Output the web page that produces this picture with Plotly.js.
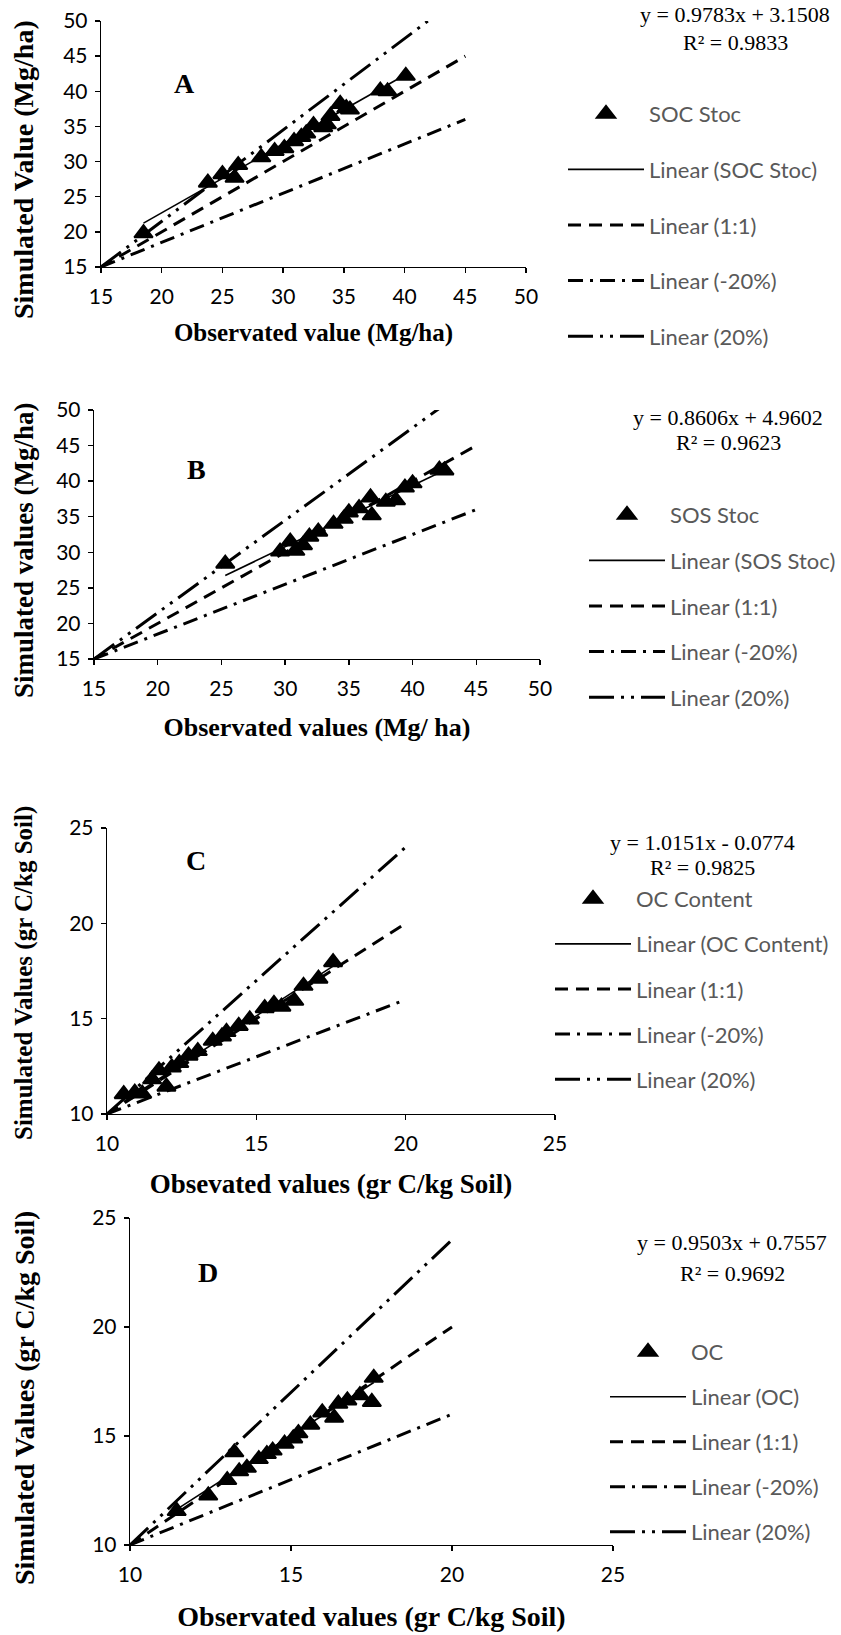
<!DOCTYPE html>
<html><head><meta charset="utf-8">
<script src="https://cdn.plot.ly/plotly-3.0.1.min.js"></script>
<style>html,body{margin:0;padding:0;background:#fff}#chart{width:841px;height:1635px}</style>
</head><body><div id="chart"></div>
<script>
// ---------- Panel A : SOC stock (Mg/ha) ----------
const obsA = [18.5, 23.8, 25.0, 26.0, 26.3, 28.2, 29.3, 30.1, 30.9, 31.5, 31.9, 32.5, 33.3, 33.6, 33.9, 34.7, 35.2, 35.5, 38.0, 38.6, 40.1];
const simA = [19.8, 27.0, 28.2, 27.7, 29.5, 30.6, 31.5, 31.9, 32.9, 33.5, 34.0, 35.2, 34.9, 35.3, 36.5, 38.2, 37.6, 37.4, 40.1, 40.0, 42.2];
const fitA = [0.9783, 3.1508];
const eqA = ['y = 0.9783x + 3.1508', 'R² = 0.9833'];
const namesA = ['SOC Stoc', 'Linear (SOC Stoc)', 'Linear (1:1)', 'Linear (-20%)', 'Linear (20%)'];

// ---------- Panel B : SOS stock (Mg/ha) ----------
const obsB = [25.3, 29.6, 30.4, 30.8, 31.4, 31.9, 32.6, 33.8, 34.6, 35.0, 35.8, 36.7, 36.8, 37.9, 38.7, 39.4, 40.0, 42.1, 42.5];
const simB = [28.4, 30.1, 31.5, 30.2, 31.0, 32.2, 32.9, 34.0, 34.7, 35.6, 36.2, 37.7, 35.2, 37.1, 37.3, 39.1, 39.7, 41.6, 41.5];
const fitB = [0.8606, 4.9602];
const eqB = ['y = 0.8606x + 4.9602', 'R² = 0.9623'];
const namesB = ['SOS Stoc', 'Linear (SOS Stoc)', 'Linear (1:1)', 'Linear (-20%)', 'Linear (20%)'];

// ---------- Panel C : OC content (gr C/kg soil) ----------
const obsC = [10.56, 10.93, 11.18, 11.51, 11.74, 11.99, 12.17, 12.42, 12.73, 13.04, 13.54, 13.85, 14.0, 14.41, 14.78, 15.28, 15.59, 15.84, 16.27, 16.58, 17.08, 17.57];
const simC = [11.04, 11.12, 11.07, 11.82, 12.29, 11.43, 12.44, 12.67, 13.06, 13.3, 13.84, 14.07, 14.3, 14.62, 14.96, 15.55, 15.78, 15.63, 15.94, 16.72, 17.1, 17.96];
const fitC = [1.0151, -0.0774];
const eqC = ['y = 1.0151x - 0.0774', 'R² = 0.9825'];
const namesC = ['OC Content', 'Linear (OC Content)', 'Linear (1:1)', 'Linear (-20%)', 'Linear (20%)'];

// ---------- Panel D : OC (gr C/kg soil) ----------
const obsD = [11.45, 12.43, 13.02, 13.24, 13.39, 13.63, 14.0, 14.25, 14.43, 14.8, 15.07, 15.23, 15.6, 15.97, 16.34, 16.47, 16.75, 17.14, 17.57, 17.51];
const simD = [11.56, 12.27, 12.98, 14.25, 13.38, 13.54, 13.94, 14.17, 14.33, 14.65, 14.89, 15.13, 15.52, 16.08, 15.84, 16.48, 16.63, 16.87, 17.67, 16.56];
const fitD = [0.9503, 0.7557];
const eqD = ['y = 0.9503x + 0.7557', 'R² = 0.9692'];
const namesD = ['OC', 'Linear (OC)', 'Linear (1:1)', 'Linear (-20%)', 'Linear (20%)'];

// ---------- reference lines (1:1, -20%, +20%) ----------
const refX_Mg = [15, 45];
const one_Mg = [15, 45];
const minus_Mg = [15, 36];
const plus_Mg = [15, 54];
const refX_gr = [10, 20];
const one_gr = [10, 20];
const minus_gr = [10, 16];
const plus_gr = [10, 24];

// ---------- axis ticks / titles ----------
const ticksMg = [15, 20, 25, 30, 35, 40, 45, 50];
const ticksGr = [10, 15, 20, 25];
const xTitles = ['Observated value (Mg/ha)', 'Observated values (Mg/ ha)', 'Obsevated values (gr C/kg Soil)', 'Observated values (gr C/kg Soil)'];
const yTitles = ['Simulated Value (Mg/ha)', 'Simulated values (Mg/ha)', 'Simulated Values (gr C/kg Soil)', 'Simulated Values (gr C/kg Soil)'];
const letters = ['A', 'B', 'C', 'D'];

const W = 841, H = 1635;
const panels = [
  {obs: obsA, sim: simA, fit: fitA, eq: eqA, names: namesA, rx: refX_Mg, r1: one_Mg, rm: minus_Mg, rp: plus_Mg, ticks: ticksMg, range: [15, 50],
   box: {l: 101, r: 526, t: 21, b: 267}, eqPos: [735, 15, 42], letterPos: [184, 83], leg: [563, 93], gap: 24,
   xsz: 25, xst: 17, ysz: 28, yTitle: [24, 170]},
  {obs: obsB, sim: simB, fit: fitB, eq: eqB, names: namesB, rx: refX_Mg, r1: one_Mg, rm: minus_Mg, rp: plus_Mg, ticks: ticksMg, range: [15, 50],
   box: {l: 94, r: 540, t: 410, b: 659}, eqPos: [728, 417, 442], letterPos: [196, 469], leg: [584, 494], gap: 14,
   xsz: 26, xst: 19, ysz: 27, yTitle: [24, 550]},
  {obs: obsC, sim: simC, fit: fitC, eq: eqC, names: namesC, rx: refX_gr, r1: one_gr, rm: minus_gr, rp: plus_gr, ticks: ticksGr, range: [10, 25],
   box: {l: 107, r: 555, t: 828, b: 1114}, eqPos: [702, 842, 867], letterPos: [196, 860], leg: [550, 878], gap: 13.5,
   xsz: 27, xst: 20, ysz: 25, yTitle: [24, 973]},
  {obs: obsD, sim: simD, fit: fitD, eq: eqD, names: namesD, rx: refX_gr, r1: one_gr, rm: minus_gr, rp: plus_gr, ticks: ticksGr, range: [10, 25],
   box: {l: 130, r: 613, t: 1218, b: 1545}, eqPos: [732, 1242, 1273], letterPos: [208, 1272], leg: [605, 1331], gap: 13.4,
   xsz: 28, xst: 22, ysz: 28, yTitle: [24, 1398]}
];

const data = [];
const layout = {
  width: W, height: H, margin: {l: 0, r: 0, t: 0, b: 0},
  paper_bgcolor: '#fff', plot_bgcolor: '#fff', showlegend: true,
  annotations: []
};
const serif = 'Liberation Serif, Times New Roman, serif';
const sans = 'Lato, Carlito, Calibri, sans-serif';

panels.forEach((p, i) => {
  const sfx = i === 0 ? '' : String(i + 1);
  const xa = 'x' + sfx, ya = 'y' + sfx, lg = 'legend' + sfx;
  const xmin = Math.min(...p.obs), xmax = Math.max(...p.obs);
  const common = {xaxis: xa, yaxis: ya, legend: lg, showlegend: true, hoverinfo: 'skip'};
  data.push(Object.assign({type: 'scatter', mode: 'markers', x: p.obs, y: p.sim, name: p.names[0], legendgroup: 'g' + i + '0', legendrank: 1,
    marker: {symbol: 'triangle-up', size: 16, color: '#000', line: {color: '#000', width: 2}}, cliponaxis: false}, common));
  data.push(Object.assign({type: 'scatter', mode: 'lines', x: [xmin, xmax], y: [p.fit[0] * xmin + p.fit[1], p.fit[0] * xmax + p.fit[1]],
    name: p.names[1], legendgroup: 'g' + i + '1', legendrank: 2, line: {color: '#000', width: 1.6}}, common));
  data.push(Object.assign({type: 'scatter', mode: 'lines', x: p.rx, y: p.r1, name: p.names[2], legendgroup: 'g' + i + '2', legendrank: 3,
    line: {color: '#000', width: 3, dash: '13px,8px'}}, common));
  data.push(Object.assign({type: 'scatter', mode: 'lines', x: p.rx, y: p.rm, name: p.names[3], legendgroup: 'g' + i + '3', legendrank: 4,
    line: {color: '#000', width: 3, dash: '15px,7px,3px,7px'}}, common));
  data.push(Object.assign({type: 'scatter', mode: 'lines', x: p.rx, y: p.rp, name: p.names[4], legendgroup: 'g' + i + '4', legendrank: 5,
    line: {color: '#000', width: 3, dash: '25px,7px,3px,7px,3px,7px'}}, common));

  const axBase = {showline: true, linecolor: '#000', linewidth: 1.3, ticks: 'outside', ticklen: 5, tickwidth: 1.3, tickcolor: '#000',
    showgrid: false, zeroline: false, fixedrange: true, range: p.range, tickvals: p.ticks, ticktext: p.ticks.map(String),
    tickfont: {family: sans, size: 21, color: '#000'}};
  layout['xaxis' + sfx] = Object.assign({}, axBase, {domain: [p.box.l / W, p.box.r / W], anchor: ya, ticklabelstandoff: 5,
    title: {text: '<b>' + xTitles[i] + '</b>', font: {family: serif, size: p.xsz, color: '#000'}, standoff: p.xst}});
  layout['yaxis' + sfx] = Object.assign({}, axBase, {domain: [1 - p.box.b / H, 1 - p.box.t / H], anchor: xa, ticklabelstandoff: 3,
    title: {text: ''}});
  layout[lg] = {x: p.leg[0] / W, y: 1 - p.leg[1] / H, xanchor: 'left', yanchor: 'top', bgcolor: 'rgba(0,0,0,0)', borderwidth: 0,
    font: {family: sans, size: 22, color: '#595959'}, itemwidth: 76, traceorder: 'grouped', tracegroupgap: p.gap, itemclick: false, itemdoubleclick: false};

  // y-axis title (positioned like the original, slightly below the plot centre)
  layout.annotations.push({xref: 'paper', yref: 'paper', x: p.yTitle[0] / W, y: 1 - p.yTitle[1] / H, text: '<b>' + yTitles[i] + '</b>',
    textangle: -90, showarrow: false, font: {family: serif, size: p.ysz, color: '#000'}, xanchor: 'center', yanchor: 'middle'});
  layout.annotations.push({xref: 'paper', yref: 'paper', x: p.eqPos[0] / W, y: 1 - p.eqPos[1] / H, text: p.eq[0], showarrow: false,
    font: {family: serif, size: 22, color: '#000'}, xanchor: 'center', yanchor: 'middle'});
  layout.annotations.push({xref: 'paper', yref: 'paper', x: p.eqPos[0] / W, y: 1 - p.eqPos[2] / H, text: p.eq[1], showarrow: false,
    font: {family: serif, size: 22, color: '#000'}, xanchor: 'center', yanchor: 'middle'});
  layout.annotations.push({xref: 'paper', yref: 'paper', x: p.letterPos[0] / W, y: 1 - p.letterPos[1] / H, text: '<b>' + letters[i] + '</b>', showarrow: false,
    font: {family: serif, size: 28, color: '#000'}, xanchor: 'center', yanchor: 'middle'});
});

Plotly.newPlot('chart', data, layout, {displayModeBar: false, staticPlot: true});
</script>
</body></html>
